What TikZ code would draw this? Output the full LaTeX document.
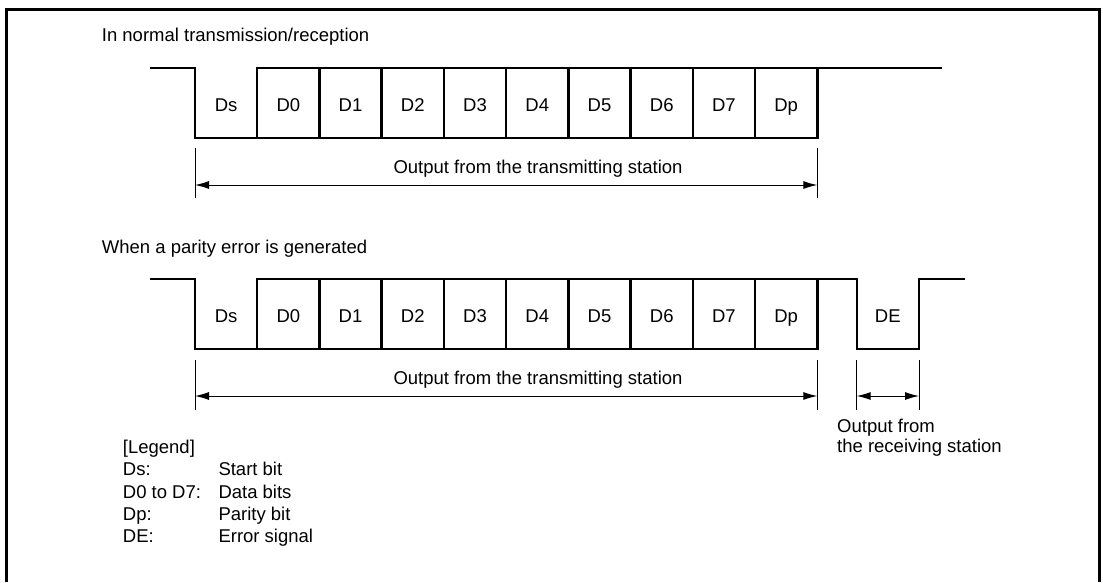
\documentclass[tikz,border=0pt]{standalone}
\usepackage{fontspec}
\setmainfont{Liberation Sans}
\usetikzlibrary{arrows.meta}

\begin{document}
\begin{tikzpicture}[x=1pt, y=-1pt,
    wave/.style={line width=2.4pt, line join=miter},
    tickline/.style={line width=1pt},
    bothspan/.style={{Latex[length=14pt,width=8pt]}-{Latex[length=14pt,width=8pt]}, line width=1pt},
    bitlabel/.style={font=\fontsize{18.5}{21}\selectfont, inner sep=0pt, anchor=base},
    caption/.style={font=\fontsize{18.5}{19.5}\selectfont, inner sep=0pt, anchor=base west, align=left}
]
\useasboundingbox (0,0) rectangle (1103,582);
\draw[line width=3pt] (6,582) -- (6,9) -- (1099,9) -- (1099,582);

% normal transmission/reception
\node[caption] (normtitle) at (101.7,41.7) {In normal transmission/reception};
\draw[wave] (150,68) -- (195,68) -- (195,138) -- (817.3,138) -- (817.3,68);
\draw[wave] (257.2,138) -- (257.2,68) -- (941.7,68);
\foreach \i in {2,...,9}
    \draw[wave] ({195+62.23*\i},68) -- ({195+62.23*\i},138);
\foreach \t [count=\i from 0] in {Ds,D0,D1,D2,D3,D4,D5,D6,D7,Dp}
    \node[bitlabel] (topbit\i) at ({226.1+62.23*\i},111.7) {\t};

\coordinate (topstartA) at (195,148);
\coordinate (topstartB) at (195,198);
\coordinate (topendA) at (817.3,148);
\coordinate (topendB) at (817.3,198);
\draw[tickline] (topstartA) -- (topstartB);
\draw[tickline] (topendA) -- (topendB);
\coordinate (toparrowL) at (195,185);
\coordinate (toparrowR) at (817.3,185);
\draw[bothspan] (toparrowL) -- (toparrowR);
\node[bitlabel] (toptx) at (538,173.3) {Output from the transmitting station};

% parity error
\node[caption] (errtitle) at (101.7,253.3) {When a parity error is generated};
\draw[wave] (150,279) -- (195,279) -- (195,349) -- (817.3,349) -- (817.3,279);
\draw[wave] (257.2,349) -- (257.2,279) -- (856.7,279) -- (856.7,349)
    -- (919,349) -- (919,279) -- (965,279);
\foreach \i in {2,...,9}
    \draw[wave] ({195+62.23*\i},279) -- ({195+62.23*\i},349);
\foreach \t [count=\i from 0] in {Ds,D0,D1,D2,D3,D4,D5,D6,D7,Dp}
    \node[bitlabel] (errbit\i) at ({226.1+62.23*\i},322.3) {\t};
\node[bitlabel] (errde) at (887.8,322.3) {DE};

\foreach \x/\n in {195/s, 817.3/e, 856.7/a, 919/b} {
    \coordinate (errtick\n A) at (\x,360);
    \coordinate (errtick\n B) at (\x,410);
    \draw[tickline] (errtick\n A) -- (errtick\n B);
}
\coordinate (errarrowL) at (195,396);
\coordinate (errarrowR) at (817.3,396);
\coordinate (rxarrowL) at (856.7,396);
\coordinate (rxarrowR) at (919,396);
\draw[bothspan] (errarrowL) -- (errarrowR);
\draw[bothspan] (rxarrowL) -- (rxarrowR);
\node[bitlabel] (errtx) at (538,384) {Output from the transmitting station};
\node[caption] (errrx) at (837,452) {Output from\\the receiving station};

% legend
\node[caption] (legtitle) at (122.7,453) {[Legend]};
\foreach \k/\v [count=\j from 0] in {Ds:/Start bit, D0 to D7:/Data bits, Dp:/Parity bit, DE:/Error signal} {
    \node[caption] (legkey\j) at (122.7,{475.7+22.3*\j}) {\k};
    \node[caption] (legval\j) at (218.3,{475.7+22.3*\j}) {\v};
}
\end{tikzpicture}
\end{document}
